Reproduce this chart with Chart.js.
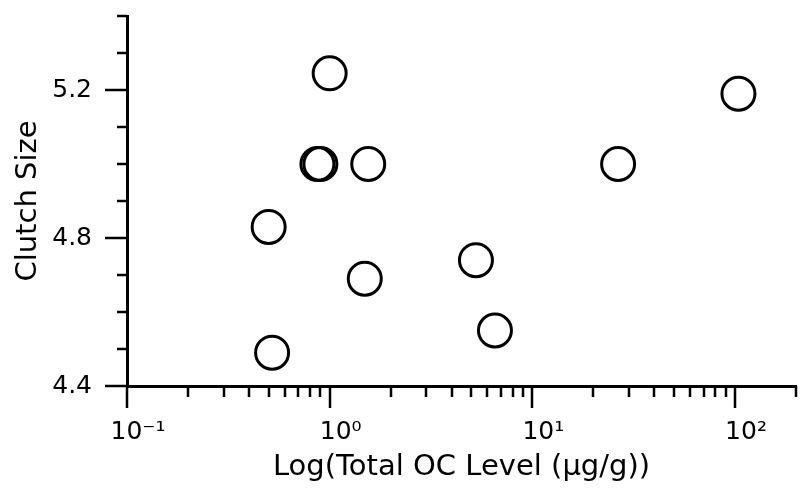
<!DOCTYPE html>
<html>
<head>
<meta charset="utf-8">
<script src="https://cdn.jsdelivr.net/npm/chart.js@4"></script>
<style>
  html, body { margin: 0; padding: 0; background: #fff; }
  #wrap { width: 803px; height: 491px; }
</style>
</head>
<body>
<div id="wrap"><canvas id="clutch"></canvas></div>
<script>
// values
const ocLevel    = [1.0, 0.87, 0.90, 1.55, 0.50, 1.49, 0.52, 104, 26.5, 5.27, 6.54];
const clutchSize = [5.245, 5.0, 5.0, 5.0, 4.83, 4.69, 4.49, 5.19, 5.0, 4.74, 4.55];

// axis ticks
const xTickValues = [0.1, 0.2, 0.3, 0.4, 0.5, 0.6, 0.7, 0.8, 0.9,
                     1, 2, 3, 4, 5, 6, 7, 8, 9,
                     10, 20, 30, 40, 50, 60, 70, 80, 90,
                     100, 200];
const xTickLabels = { 0.1: '10\u207B\u00B9', 1: '10\u2070', 10: '10\u00B9', 100: '10\u00B2' };
const yTickValues = [4.4, 4.5, 4.6, 4.7, 4.8, 4.9, 5.0, 5.1, 5.2, 5.3, 5.4];
const yTickLabels = { 4.4: '4.4', 4.8: '4.8', 5.2: '5.2' };

const points = ocLevel.map((v, i) => ({ x: v, y: clutchSize[i] }));

// long ticks for labelled values, short ones for the rest
const tickMarks = {
    id: 'tickMarks',
    afterDraw(chart) {
        const ctx = chart.ctx;
        const xs = chart.scales.x, ys = chart.scales.y;
        ctx.save();
        ctx.strokeStyle = '#000';
        ctx.lineWidth = 2.5;
        ctx.beginPath();
        xs.ticks.forEach(t => {
            const px = Math.round(xs.getPixelForValue(t.value));
            const len = xTickLabels[t.value] ? 22 : 11;
            ctx.moveTo(px, xs.top);
            ctx.lineTo(px, xs.top + len);
        });
        ys.ticks.forEach(t => {
            const py = Math.round(ys.getPixelForValue(t.value));
            const len = yTickLabels[t.value] ? 22 : 10;
            ctx.moveTo(ys.right, py);
            ctx.lineTo(ys.right - len, py);
        });
        ctx.stroke();
        ctx.restore();
    }
};

const ctxClutch = document.getElementById('clutch').getContext('2d');
const chartClutch = new Chart(ctxClutch, {
    type: 'scatter',
    data: {
        datasets: [{
            data: points,
            pointStyle: 'circle',
            pointRadius: 16.5,
            pointBorderWidth: 3,
            pointBorderColor: '#000',
            pointBackgroundColor: 'rgba(255,255,255,0)'
        }]
    },
    options: {
        responsive: true,
        maintainAspectRatio: false,
        animation: false,
        layout: { autoPadding: false, padding: { top: 16, right: 7, left: 0, bottom: 0 } },
        scales: {
            x: {
                type: 'logarithmic',
                min: 0.1,
                max: 200,
                afterBuildTicks: s => { s.ticks = xTickValues.map(v => ({ value: v })); },
                afterFit: s => { s.height = 105; s.paddingLeft = 0; s.paddingRight = 0; },
                grid: { display: false },
                border: { display: true, color: '#000', width: 3 },
                ticks: {
                    autoSkip: false,
                    maxRotation: 0,
                    padding: 23,
                    labelOffset: 11,
                    color: '#000',
                    font: { family: 'DejaVu Sans', size: 25 },
                    callback: v => xTickLabels[v] || ''
                },
                title: {
                    display: true,
                    text: 'Log(Total OC Level (\u00B5g/g))',
                    color: '#000',
                    font: { family: 'DejaVu Sans', size: 29 },
                    padding: { top: 0, bottom: 6 }
                }
            },
            y: {
                min: 4.4,
                max: 5.4,
                afterBuildTicks: s => { s.ticks = yTickValues.map(v => ({ value: v })); },
                afterFit: s => { s.width = 127; s.paddingTop = 0; s.paddingBottom = 0; },
                grid: { display: false },
                border: { display: true, color: '#000', width: 3 },
                ticks: {
                    autoSkip: false,
                    padding: 27,
                    color: '#000',
                    font: { family: 'DejaVu Sans', size: 25 },
                    callback: v => yTickLabels[v] || ''
                },
                title: {
                    display: true,
                    text: 'Clutch Size',
                    color: '#000',
                    font: { family: 'DejaVu Sans', size: 29 },
                    padding: { top: 11, bottom: 0 }
                }
            }
        },
        plugins: {
            legend: { display: false },
            tooltip: { enabled: false }
        }
    },
    plugins: [tickMarks]
});
</script>
</body>
</html>
